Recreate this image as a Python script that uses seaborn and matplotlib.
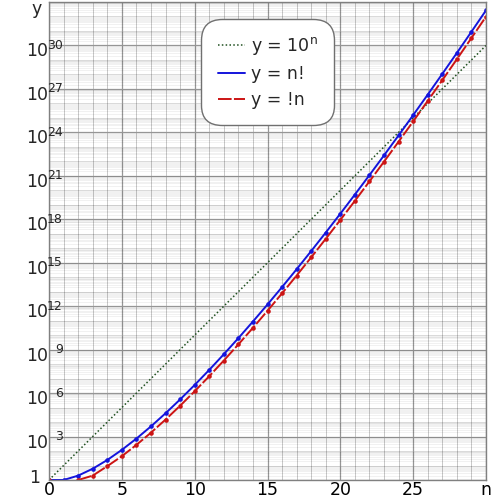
import numpy as np
import pandas as pd
import matplotlib
matplotlib.use('Agg')
import matplotlib.pyplot as plt
import seaborn as sns
from matplotlib.ticker import FixedLocator, LogLocator, NullFormatter

# n from 0 to 30
n = list(range(31))
factorial = [1, 1, 2, 6, 24, 120, 720, 5040, 40320, 362880, 3628800,
             39916800, 479001600, 6227020800, 87178291200, 1.3077e12,
             2.0923e13, 3.5569e14, 6.4024e15, 1.2165e17, 2.4329e18,
             5.1091e19, 1.1240e21, 2.5852e22, 6.2045e23, 1.5511e25,
             4.0329e26, 1.0889e28, 3.0489e29, 8.8418e30, 2.6525e32]
subfactorial = [1, 0, 1, 2, 9, 44, 265, 1854, 14833, 133496, 1334961,
                14684570, 176214841, 2290792932, 32071101049, 4.8107e11,
                7.6971e12, 1.3085e14, 2.3553e15, 4.4751e16, 8.9501e17,
                1.8795e19, 4.1350e20, 9.5105e21, 2.2825e23, 5.7063e24,
                1.4836e26, 4.0058e27, 1.1216e29, 3.2527e30, 9.7581e31]
pow_n = [0, 30]
pow_y = [1, 1e30]

y_exps = list(range(0, 34, 3))
y_ticks = [10.0 ** k for k in y_exps]
x_ticks = [0, 5, 10, 15, 20, 25, 30]
x_labels = ['0', '5', '10', '15', '20', '25', 'n']

df = pd.DataFrame({'n': n, 'fact': factorial, 'sub': subfactorial})
sub_line = df[df.n >= 2]
sub_first = df[df.n == 0]

sns.set_theme(style='white')
fig = plt.figure(figsize=(5, 5), dpi=100)
ax = fig.add_axes([0.098, 0.04, 0.874, 0.956])
ax.set_yscale('log')

sns.lineplot(x=pow_n, y=pow_y, ax=ax, color='#1f4f1f', lw=1.1,
             linestyle=(0, (1, 1.5)), label='y = 10$^{\\mathregular{n}}$')
sns.lineplot(data=df, x='n', y='fact', ax=ax, color='#1414dc', lw=1.4,
             marker='o', markersize=3.3, markeredgewidth=0, label='y = n!')
sns.lineplot(data=sub_line, x='n', y='sub', ax=ax, color='#cc1414', lw=1.4,
             linestyle=(0, (7, 1.2)), marker='o', markersize=3.3,
             markeredgewidth=0, label='y = !n')
sns.lineplot(data=sub_first, x='n', y='sub', ax=ax, color='#cc1414',
             marker='o', markersize=3.3, markeredgewidth=0, legend=False)

ax.set_xlim(0, 30)
ax.set_ylim(1, 1e33)
ax.yaxis.set_major_locator(FixedLocator(y_ticks))
ax.yaxis.set_major_formatter(NullFormatter())
ax.yaxis.set_minor_locator(LogLocator(base=10, subs=np.arange(2, 10), numticks=400))
ax.yaxis.set_minor_formatter(NullFormatter())
ax.set_xticks(x_ticks)
ax.set_xticklabels(x_labels)
ax.set_xticks(range(31), minor=True)
ax.set_xlabel('')
ax.set_ylabel('')

# y labels: "10" a bit below its line, exponent on the line just inside the frame
ytr = ax.get_yaxis_transform()
for k in y_exps:
    if k == 0:
        ax.annotate('1', xy=(0, 1), xycoords=ytr, xytext=(-6.5, 1.5),
                    textcoords='offset points', ha='right', va='center',
                    fontsize=12.5)
    elif k == 33:
        ax.annotate('y', xy=(0, 10.0 ** k), xycoords=ytr, xytext=(-5.5, -5),
                    textcoords='offset points', ha='right', va='center',
                    fontsize=12.5)
    else:
        ax.annotate('10', xy=(0, 10.0 ** k), xycoords=ytr, xytext=(-0.8, -4.3),
                    textcoords='offset points', ha='right', va='center',
                    fontsize=12.5)
        ax.annotate(str(k), xy=(0, 10.0 ** k), xycoords=ytr, xytext=(10, 0),
                    textcoords='offset points', ha='right', va='center',
                    fontsize=9)

# grid: dark at ticks, medium at each decade / integer, faint log minors
ax.grid(which='major', color='#969696', lw=0.9)
ax.yaxis.grid(which='minor', color='black', alpha=0.065, lw=0.6)
ax.xaxis.grid(which='minor', color='black', alpha=0.22, lw=0.7)
for k in range(34):
    if k % 3:
        ax.axhline(10.0 ** k, color='black', alpha=0.15, lw=0.7, zorder=0.5)
ax.set_axisbelow(True)
ax.tick_params(which='both', length=0, labelsize=12.5, colors='black', pad=1)
for s in ax.spines.values():
    s.set_color('#808080')
    s.set_linewidth(1)

leg = ax.legend(loc='upper center', bbox_to_anchor=(0.5, 0.965), fontsize=12.5,
                frameon=True, fancybox=True, borderpad=0.45, handlelength=1.6,
                handletextpad=0.3, labelspacing=0.45, edgecolor='#707070',
                framealpha=1)
leg.get_frame().set_boxstyle('round', pad=0.5, rounding_size=1.2)
for h in leg.legend_handles:
    h.set_marker('')

plt.savefig('out.png', dpi=100)
